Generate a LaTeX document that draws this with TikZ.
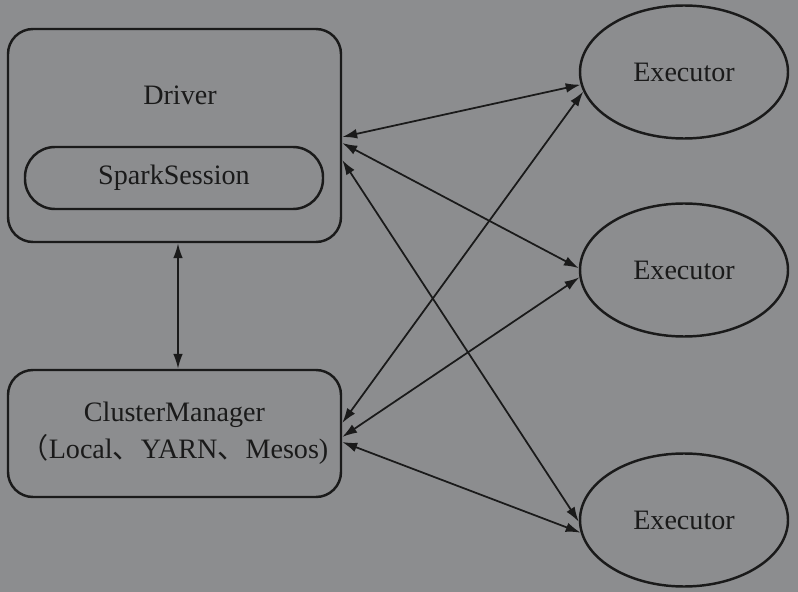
\documentclass[tikz,border=0pt]{standalone}
\usepackage{fontspec}
\setmainfont{Liberation Serif}
\newfontfamily\cjk{Noto Sans CJK SC}
\usetikzlibrary{arrows.meta,shapes.geometric}
\definecolor{bggray}{HTML}{8C8D8F}
\definecolor{inkgray}{HTML}{1A1A1A}
\begin{document}
\begin{tikzpicture}[
  font=\fontsize{16}{21}\selectfont, color=inkgray,
  box/.style={draw, line width=1.4pt, rounded corners=0.5cm, inner sep=0pt, minimum width=6.66cm},
  exec/.style={draw, ellipse, line width=1.4pt, inner sep=0pt, minimum width=4.16cm, minimum height=2.66cm},
  link/.style={line width=1pt, {Latex[length=8.5pt,width=5.5pt]}-{Latex[length=8.5pt,width=5.5pt]}}
]
\fill [bggray] (0,0) rectangle (15.96,-11.84);
\useasboundingbox (0,0) rectangle (15.96,-11.84);
% driver side
\node [box, minimum height=4.26cm] (drv) at (3.49,-2.71) {};
\node (drvlabel) at (3.6,-1.9) {Driver};
\node [box, rounded corners=0.6cm, minimum width=5.96cm, minimum height=1.24cm] (sess) at (3.48,-3.56) {SparkSession};
\node [box, minimum height=2.54cm, align=center] (cm) at (3.49,-8.67) {ClusterManager\\{\cjk （}Local{\cjk 、}YARN{\cjk 、}Mesos)};
% executors
\node [exec] (ex1) at (13.68,-1.44) {Executor};
\node [exec] (ex2) at (13.68,-5.4) {Executor};
\node [exec] (ex3) at (13.68,-10.4) {Executor};
% connectors
\draw [link] ([xshift=0.07cm]drv.south) -- ([xshift=0.07cm]cm.north);
\draw [link] ([yshift=-0.03cm]drv.east) -- (ex1.187);
\draw [link] ([yshift=-0.15cm]drv.east) -- (ex2.179);
\draw [link] ([yshift=-0.49cm]drv.east) -- (ex3.181);
\draw [link] ([yshift=0.21cm]cm.east) -- (ex1.191);
\draw [link] ([yshift=-0.07cm]cm.east) -- (ex2.184);
\draw [link] ([yshift=-0.17cm]cm.east) -- (ex3.187);
\end{tikzpicture}
\end{document}
